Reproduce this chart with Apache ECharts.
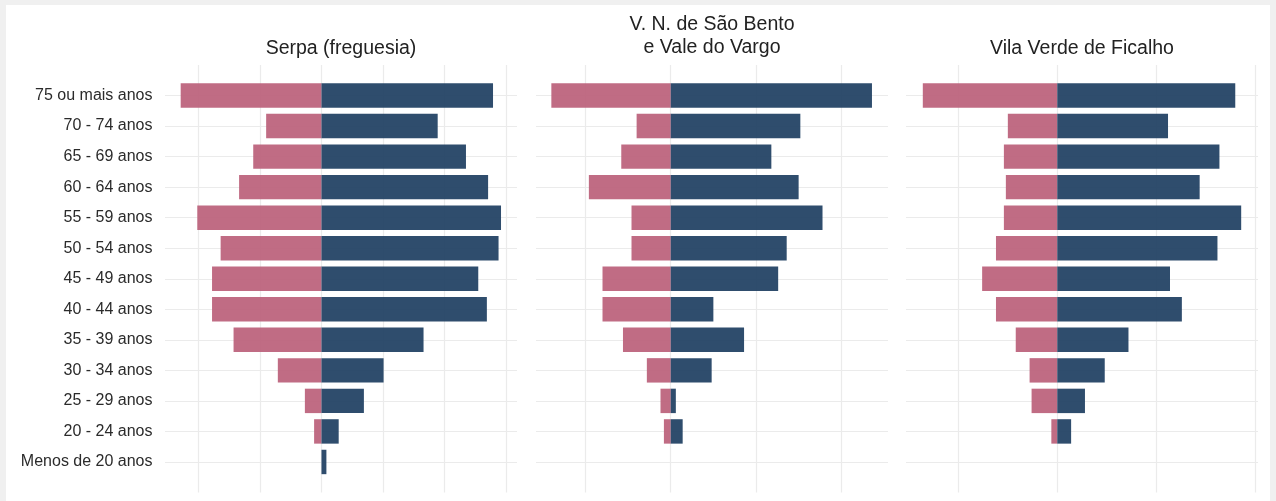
<!DOCTYPE html>
<html>
<head>
<meta charset="utf-8">
<script src="https://cdn.jsdelivr.net/npm/echarts@6/dist/echarts.min.js"></script>
<style>
  html, body { margin: 0; padding: 0; background: #f0f0f0; width: 1276px; height: 501px; overflow: hidden; }
  #paper { position: absolute; left: 6px; top: 5px; width: 1264px; height: 496px; background: #ffffff; }
  #chart { position: absolute; left: 0; top: 0; width: 1276px; height: 501px; }
</style>
</head>
<body>
<div id="paper"></div>
<div id="chart"></div>
<script>
const categories = ['75 ou mais anos', '70 - 74 anos', '65 - 69 anos', '60 - 64 anos', '55 - 59 anos', '50 - 54 anos', '45 - 49 anos', '40 - 44 anos', '35 - 39 anos', '30 - 34 anos', '25 - 29 anos', '20 - 24 anos', 'Menos de 20 anos'];

const serpaLeft  = [229, 90, 111, 134, 202, 164, 178, 178, 143, 71, 27, 12, 0];
const serpaRight = [279, 189, 235, 271, 292, 288, 255, 269, 166, 101, 69, 28, 8];
const vnsbLeft   = [70, 20, 29, 48, 23, 23, 40, 40, 28, 14, 6, 4, 0];
const vnsbRight  = [118, 76, 59, 75, 89, 68, 63, 25, 43, 24, 3, 7, 0];
const vvfLeft    = [68, 25, 27, 26, 27, 31, 38, 31, 21, 14, 13, 3, 0];
const vvfRight   = [90, 56, 82, 72, 93, 81, 57, 63, 36, 24, 14, 7, 0];

const panelTitles = ['Serpa (freguesia)', 'V. N. de São Bento\ne Vale do Vargo', 'Vila Verde de Ficalho'];
const gridTicks = [[-200, -100, 0, 100, 200, 300], [-50, 0, 50, 100], [-50, 0, 50, 100]];
const axisRanges = [[-254.5, 318], [-79, 127.4], [-76.5, 101.5]];

const panels = [
  { left: serpaLeft, right: serpaRight },
  { left: vnsbLeft, right: vnsbRight },
  { left: vvfLeft, right: vvfRight }
];

const PINK = '#BB617B';
const BLUE = '#1F4062';
const GRIDC = '#ebebeb';
const gridLefts = [165, 536, 906];
const gridW = 352;
const FONT = 'Liberation Sans, Arial, sans-serif';

const option = {
  animation: false,
  title: panels.map((p, i) => ({
    text: panelTitles[i],
    left: gridLefts[i] + gridW / 2,
    textAlign: 'center',
    top: i === 1 ? 13.5 : 37,
    padding: 0,
    textStyle: { fontFamily: FONT, fontSize: 19.5, fontWeight: 'normal', color: '#222', lineHeight: 23 }
  })),
  grid: panels.map((p, i) => ({ left: gridLefts[i], width: gridW, top: 65, height: 427.5, containLabel: false })),
  xAxis: panels.map((p, i) => ({
    type: 'value', gridIndex: i, min: axisRanges[i][0], max: axisRanges[i][1],
    axisLine: { show: false }, axisTick: { show: false }, axisLabel: { show: false }, splitLine: { show: false }
  })),
  yAxis: panels.map((p, i) => ({
    type: 'category', gridIndex: i, data: categories, inverse: true, boundaryGap: false, min: -1, max: 13,
    axisLine: { show: false }, axisTick: { show: false },
    axisLabel: { show: i === 0, margin: 12.5, fontFamily: FONT, fontSize: 16, color: '#2b2b2b', interval: 0 },
    splitLine: { show: true, interval: (idx) => idx >= 0 && idx <= 12, lineStyle: { color: GRIDC, width: 1.2 } }
  })),
  series: []
};

panels.forEach((p, i) => {
  option.series.push({
    type: 'line', xAxisIndex: i, yAxisIndex: i, data: [], z: 1, silent: true,
    markLine: {
      z: 1, silent: true, symbol: ['none', 'none'], label: { show: false },
      lineStyle: { color: GRIDC, width: 1.2, type: 'solid' },
      emphasis: { disabled: true },
      data: gridTicks[i].map(v => ({ xAxis: v }))
    }
  });
  option.series.push({
    type: 'bar', xAxisIndex: i, yAxisIndex: i, z: 3,
    data: p.left.map(v => -v), barWidth: '80%', barGap: '-100%',
    itemStyle: { color: PINK, opacity: 0.93 }
  });
  option.series.push({
    type: 'bar', xAxisIndex: i, yAxisIndex: i, z: 3,
    data: p.right, barWidth: '80%', barGap: '-100%',
    itemStyle: { color: BLUE, opacity: 0.93 }
  });
});

const chart = echarts.init(document.getElementById('chart'), null, { renderer: 'canvas' });
chart.setOption(option);
</script>
</body>
</html>
